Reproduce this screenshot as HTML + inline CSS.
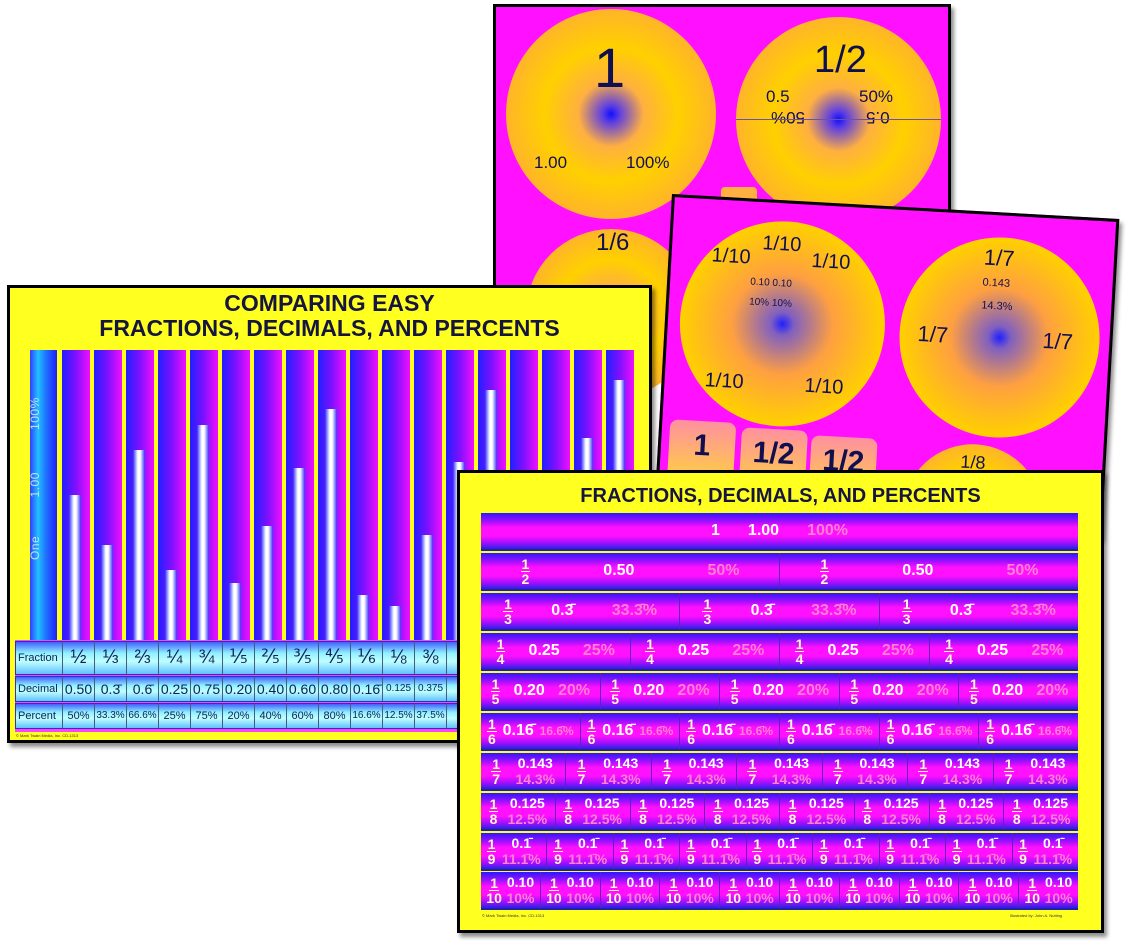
<!DOCTYPE html>
<html><head><meta charset="utf-8"><style>
*{margin:0;padding:0;box-sizing:border-box}
body{width:1133px;height:949px;background:#fff;position:relative;overflow:hidden;font-family:"Liberation Sans",sans-serif}
.card{position:absolute;border:3px solid #000;box-shadow:3px 4px 4px rgba(0,0,0,.45)}
.circ{position:absolute;border-radius:50%;background:radial-gradient(circle,#1010ff 0,#6040e0 6%,#ffb040 22%,#ffd000 45%,#ffb030 75%,#ff60c0 100%)}
.ct{position:absolute;color:#101050;font-size:17px}
.col{position:absolute;top:350px;height:290px;width:28px;background:linear-gradient(to right,#2020ff,#8010ff 50%,#f010ff)}
.bar{position:absolute;left:7px;bottom:0;width:12px;background:linear-gradient(to right,#3030ff,#fff 40%,#fff 60%,#3030ff)}
.tr{position:absolute;left:15px;width:640px;display:flex;border:1px solid #3030c0;background:linear-gradient(#4060ff,#90f0ff 35%,#c0ffff 60%,#60c0ff)}
.tr div{flex:0 0 32px;border-right:1px solid #406080;text-align:center;color:#102050;font-size:14px;white-space:nowrap;overflow:hidden}
.tr div:first-child{flex:0 0 47px;font-size:11px;text-align:left;padding-left:2px}
.row{position:absolute;left:481px;width:597px;height:38px;display:flex;background:linear-gradient(#2a18ff 0%,#9010ff 20%,#ff10ff 40%,#ff10ff 64%,#9a10ff 84%,#2a20e0 100%);border-bottom:2px solid #2020b0}
.cell{flex:1;display:flex;align-items:center;justify-content:space-around;border-right:1px solid #6020c0;color:#fff;font-weight:bold;font-size:16px;padding:0 3px;white-space:nowrap}
.cell:last-child{border-right:none}
.p{color:#ff80d0;font-weight:bold}
.f{display:inline-flex;flex-direction:column;align-items:center;font-size:14px;line-height:14px;color:#fff8d0}
.f i{font-style:normal;border-bottom:1.5px solid #fff8d0;padding:0 1px}
.st{display:flex;flex-direction:column;line-height:16px;font-size:14px;align-items:center}
</style></head><body>

<!-- back card -->
<div class="card" style="left:493px;top:4px;width:458px;height:300px;background:#ff10ff">
  <div class="circ" style="left:10px;top:2px;width:210px;height:210px"></div>
  <div class="ct" style="left:98px;top:28px;font-size:56px">1</div>
  <div class="ct" style="left:38px;top:146px">1.00</div>
  <div class="ct" style="left:130px;top:146px">100%</div>
  <div class="circ" style="left:240px;top:10px;width:205px;height:205px"></div>
  <div class="ct" style="left:318px;top:32px;font-size:38px">1/2</div>
  <div class="ct" style="left:270px;top:80px">0.5</div>
  <div class="ct" style="left:363px;top:80px">50%</div>
  <div class="ct" style="left:275px;top:100px;transform:rotate(180deg)">50%</div>
  <div class="ct" style="left:370px;top:100px;transform:rotate(180deg)">0.5</div>
  <div style="position:absolute;left:240px;top:112px;width:205px;height:1px;background:#7050a0"></div>
  <div class="circ" style="left:30px;top:222px;width:170px;height:170px"></div>
  <div class="ct" style="left:100px;top:222px;font-size:24px">1/6</div>
  <div style="position:absolute;left:225px;top:180px;width:36px;height:20px;background:#ffb040;border-radius:4px"></div>
</div>

<!-- middle card -->
<div class="card" style="left:672px;top:194px;width:448px;height:320px;background:#ff10ff;transform:rotate(3.2deg);transform-origin:0 0">
  <div class="circ" style="left:12px;top:18px;width:205px;height:205px;background:radial-gradient(circle,#2020ff 0,#8060c0 8%,#ffa040 35%,#ffd000 70%,#ffa060 100%)"></div>
  <div class="ct" style="left:40px;top:45px;font-size:20px">1/10</div>
  <div class="ct" style="left:90px;top:30px;font-size:20px">1/10</div>
  <div class="ct" style="left:140px;top:45px;font-size:20px">1/10</div>
  <div class="ct" style="left:80px;top:75px;font-size:10px">0.10 0.10</div>
  <div class="ct" style="left:80px;top:95px;font-size:10px">10% 10%</div>
  <div class="ct" style="left:40px;top:170px;font-size:20px">1/10</div>
  <div class="ct" style="left:140px;top:170px;font-size:20px">1/10</div>
  <div class="circ" style="left:232px;top:22px;width:200px;height:200px;background:radial-gradient(circle,#2020ff 0,#8060c0 8%,#ffa040 35%,#ffd000 70%,#ffa060 100%)"></div>
  <div class="ct" style="left:312px;top:30px;font-size:22px">1/7</div>
  <div class="ct" style="left:312px;top:62px;font-size:11px">0.143</div>
  <div class="ct" style="left:312px;top:85px;font-size:11px">14.3%</div>
  <div class="ct" style="left:250px;top:110px;font-size:22px">1/7</div>
  <div class="ct" style="left:375px;top:110px;font-size:22px">1/7</div>
  <div style="position:absolute;left:8px;top:222px;width:66px;height:60px;background:linear-gradient(#ff90a0,#ffd040);border-radius:8px;font-size:30px;font-weight:bold;color:#101050;text-align:center;padding-top:8px">1</div>
  <div style="position:absolute;left:80px;top:226px;width:66px;height:60px;background:linear-gradient(#ff90a0,#ffd040);border-radius:8px;font-size:30px;font-weight:bold;color:#101050;text-align:center;padding-top:8px">1/2</div>
  <div style="position:absolute;left:150px;top:230px;width:66px;height:60px;background:linear-gradient(#ff90a0,#ffd040);border-radius:8px;font-size:30px;font-weight:bold;color:#101050;text-align:center;padding-top:8px">1/2</div>
  <div class="circ" style="left:245px;top:230px;width:140px;height:140px"></div>
  <div class="ct" style="left:300px;top:238px;font-size:18px">1/8</div>
</div>

<!-- left card -->
<div class="card" style="left:7px;top:285px;width:645px;height:458px;background:#ffff20"></div>
<div style="position:absolute;left:7px;top:291px;width:645px;text-align:center;font-weight:bold;font-size:23px;line-height:25px;color:#151540">COMPARING EASY<br>FRACTIONS, DECIMALS, AND PERCENTS</div>
<div style="position:absolute;left:30px;top:350px;width:27px;height:290px;background:linear-gradient(to right,#3040ff,#20c0ff 30%,#2070ff 60%,#2020ff)"></div>
<div style="position:absolute;left:28px;top:560px;transform:rotate(-90deg);transform-origin:0 0;color:#c0e0ff;font-size:12px;width:200px;letter-spacing:.5px">One&nbsp;&nbsp;&nbsp;&nbsp;&nbsp;&nbsp;&nbsp;&nbsp;&nbsp;&nbsp;1.00&nbsp;&nbsp;&nbsp;&nbsp;&nbsp;&nbsp;&nbsp;&nbsp;&nbsp;&nbsp;&nbsp;100%</div>
<div class="col" style="left:62px"><div class="bar" style="height:145px"></div></div>
<div class="col" style="left:94px"><div class="bar" style="height:95px"></div></div>
<div class="col" style="left:126px"><div class="bar" style="height:190px"></div></div>
<div class="col" style="left:158px"><div class="bar" style="height:70px"></div></div>
<div class="col" style="left:190px"><div class="bar" style="height:215px"></div></div>
<div class="col" style="left:222px"><div class="bar" style="height:57px"></div></div>
<div class="col" style="left:254px"><div class="bar" style="height:114px"></div></div>
<div class="col" style="left:286px"><div class="bar" style="height:172px"></div></div>
<div class="col" style="left:318px"><div class="bar" style="height:231px"></div></div>
<div class="col" style="left:350px"><div class="bar" style="height:45px"></div></div>
<div class="col" style="left:382px"><div class="bar" style="height:34px"></div></div>
<div class="col" style="left:414px"><div class="bar" style="height:105px"></div></div>
<div class="col" style="left:446px"><div class="bar" style="height:178px"></div></div>
<div class="col" style="left:478px"><div class="bar" style="height:250px"></div></div>
<div class="col" style="left:510px"></div>
<div class="col" style="left:542px"></div>
<div class="col" style="left:574px"><div class="bar" style="height:202px"></div></div>
<div class="col" style="left:606px"><div class="bar" style="height:260px"></div></div>
<div style="position:absolute;left:15px;top:640px;width:636px;height:92px;background:#ff40ff"></div>
<div class="tr" style="top:641px;height:34px;line-height:32px"><div>Fraction</div><div style="font-size:19px">½</div><div style="font-size:19px">⅓</div><div style="font-size:19px">⅔</div><div style="font-size:19px">¼</div><div style="font-size:19px">¾</div><div style="font-size:19px">⅕</div><div style="font-size:19px">⅖</div><div style="font-size:19px">⅗</div><div style="font-size:19px">⅘</div><div style="font-size:19px">⅙</div><div style="font-size:19px">⅛</div><div style="font-size:19px">⅜</div><div>5</div></div>
<div class="tr" style="top:676px;height:26px;line-height:24px"><div>Decimal</div><div>0.50</div><div>0.3̄</div><div>0.6̄</div><div>0.25</div><div>0.75</div><div>0.20</div><div>0.40</div><div>0.60</div><div>0.80</div><div>0.16̄</div><div style="font-size:10px">0.125</div><div style="font-size:10px">0.375</div><div>0.</div></div>
<div class="tr" style="top:703px;height:26px;line-height:24px"><div>Percent</div><div style="font-size:11px">50%</div><div style="font-size:10px">33.3%</div><div style="font-size:10px">66.6%</div><div style="font-size:11px">25%</div><div style="font-size:11px">75%</div><div style="font-size:11px">20%</div><div style="font-size:11px">40%</div><div style="font-size:11px">60%</div><div style="font-size:11px">80%</div><div style="font-size:10px">16.6%</div><div style="font-size:10px">12.5%</div><div style="font-size:10px">37.5%</div><div style="font-size:11px">6</div></div>
<div style="position:absolute;left:16px;top:733px;font-size:4px;color:#333">© Mark Twain Media, Inc. CD-1313</div>

<!-- front card -->
<div class="card" style="left:457px;top:470px;width:647px;height:463px;background:#ffff20"></div>
<div style="position:absolute;left:457px;top:485px;width:647px;text-align:center;font-weight:bold;font-size:20px;color:#151540">FRACTIONS, DECIMALS, AND PERCENTS</div>

<div class="row" style="top:513px"><div class="cell" style="justify-content:center;gap:28px"><span>1</span><span>1.00</span><span class="p">100%</span></div></div>
<div class="row" style="top:553px"><div class="cell"><span class="f"><i>1</i>2</span><span>0.50</span><span class="p">50%</span></div><div class="cell"><span class="f"><i>1</i>2</span><span>0.50</span><span class="p">50%</span></div></div>
<div class="row" style="top:593px"><div class="cell"><span class="f"><i>1</i>3</span><span>0.3̄</span><span class="p">33.3̄%</span></div><div class="cell"><span class="f"><i>1</i>3</span><span>0.3̄</span><span class="p">33.3̄%</span></div><div class="cell"><span class="f"><i>1</i>3</span><span>0.3̄</span><span class="p">33.3̄%</span></div></div>
<div class="row" style="top:633px"><div class="cell"><span class="f"><i>1</i>4</span><span>0.25</span><span class="p">25%</span></div><div class="cell"><span class="f"><i>1</i>4</span><span>0.25</span><span class="p">25%</span></div><div class="cell"><span class="f"><i>1</i>4</span><span>0.25</span><span class="p">25%</span></div><div class="cell"><span class="f"><i>1</i>4</span><span>0.25</span><span class="p">25%</span></div></div>
<div class="row" style="top:673px"><div class="cell"><span class="f"><i>1</i>5</span><span>0.20</span><span class="p">20%</span></div><div class="cell"><span class="f"><i>1</i>5</span><span>0.20</span><span class="p">20%</span></div><div class="cell"><span class="f"><i>1</i>5</span><span>0.20</span><span class="p">20%</span></div><div class="cell"><span class="f"><i>1</i>5</span><span>0.20</span><span class="p">20%</span></div><div class="cell"><span class="f"><i>1</i>5</span><span>0.20</span><span class="p">20%</span></div></div>
<div class="row" style="top:713px;font-size:14px"><div class="cell"><span class="f"><i>1</i>6</span><span>0.16̄</span><span class="p" style="font-size:12px">16.6̄%</span></div><div class="cell"><span class="f"><i>1</i>6</span><span>0.16̄</span><span class="p" style="font-size:12px">16.6̄%</span></div><div class="cell"><span class="f"><i>1</i>6</span><span>0.16̄</span><span class="p" style="font-size:12px">16.6̄%</span></div><div class="cell"><span class="f"><i>1</i>6</span><span>0.16̄</span><span class="p" style="font-size:12px">16.6̄%</span></div><div class="cell"><span class="f"><i>1</i>6</span><span>0.16̄</span><span class="p" style="font-size:12px">16.6̄%</span></div><div class="cell"><span class="f"><i>1</i>6</span><span>0.16̄</span><span class="p" style="font-size:12px">16.6̄%</span></div></div>
<div class="row" style="top:753px"><div class="cell"><span class="f"><i>1</i>7</span><span class="st"><span>0.143</span><span class="p">14.3%</span></span></div><div class="cell"><span class="f"><i>1</i>7</span><span class="st"><span>0.143</span><span class="p">14.3%</span></span></div><div class="cell"><span class="f"><i>1</i>7</span><span class="st"><span>0.143</span><span class="p">14.3%</span></span></div><div class="cell"><span class="f"><i>1</i>7</span><span class="st"><span>0.143</span><span class="p">14.3%</span></span></div><div class="cell"><span class="f"><i>1</i>7</span><span class="st"><span>0.143</span><span class="p">14.3%</span></span></div><div class="cell"><span class="f"><i>1</i>7</span><span class="st"><span>0.143</span><span class="p">14.3%</span></span></div><div class="cell"><span class="f"><i>1</i>7</span><span class="st"><span>0.143</span><span class="p">14.3%</span></span></div></div>
<div class="row" style="top:793px"><div class="cell"><span class="f"><i>1</i>8</span><span class="st"><span>0.125</span><span class="p">12.5%</span></span></div><div class="cell"><span class="f"><i>1</i>8</span><span class="st"><span>0.125</span><span class="p">12.5%</span></span></div><div class="cell"><span class="f"><i>1</i>8</span><span class="st"><span>0.125</span><span class="p">12.5%</span></span></div><div class="cell"><span class="f"><i>1</i>8</span><span class="st"><span>0.125</span><span class="p">12.5%</span></span></div><div class="cell"><span class="f"><i>1</i>8</span><span class="st"><span>0.125</span><span class="p">12.5%</span></span></div><div class="cell"><span class="f"><i>1</i>8</span><span class="st"><span>0.125</span><span class="p">12.5%</span></span></div><div class="cell"><span class="f"><i>1</i>8</span><span class="st"><span>0.125</span><span class="p">12.5%</span></span></div><div class="cell"><span class="f"><i>1</i>8</span><span class="st"><span>0.125</span><span class="p">12.5%</span></span></div></div>
<div class="row" style="top:833px"><div class="cell"><span class="f"><i>1</i>9</span><span class="st"><span>0.1̄</span><span class="p">11.1̄%</span></span></div><div class="cell"><span class="f"><i>1</i>9</span><span class="st"><span>0.1̄</span><span class="p">11.1̄%</span></span></div><div class="cell"><span class="f"><i>1</i>9</span><span class="st"><span>0.1̄</span><span class="p">11.1̄%</span></span></div><div class="cell"><span class="f"><i>1</i>9</span><span class="st"><span>0.1̄</span><span class="p">11.1̄%</span></span></div><div class="cell"><span class="f"><i>1</i>9</span><span class="st"><span>0.1̄</span><span class="p">11.1̄%</span></span></div><div class="cell"><span class="f"><i>1</i>9</span><span class="st"><span>0.1̄</span><span class="p">11.1̄%</span></span></div><div class="cell"><span class="f"><i>1</i>9</span><span class="st"><span>0.1̄</span><span class="p">11.1̄%</span></span></div><div class="cell"><span class="f"><i>1</i>9</span><span class="st"><span>0.1̄</span><span class="p">11.1̄%</span></span></div><div class="cell"><span class="f"><i>1</i>9</span><span class="st"><span>0.1̄</span><span class="p">11.1̄%</span></span></div></div>
<div class="row" style="top:872px"><div class="cell"><span class="f"><i>1</i>10</span><span class="st"><span>0.10</span><span class="p">10%</span></span></div><div class="cell"><span class="f"><i>1</i>10</span><span class="st"><span>0.10</span><span class="p">10%</span></span></div><div class="cell"><span class="f"><i>1</i>10</span><span class="st"><span>0.10</span><span class="p">10%</span></span></div><div class="cell"><span class="f"><i>1</i>10</span><span class="st"><span>0.10</span><span class="p">10%</span></span></div><div class="cell"><span class="f"><i>1</i>10</span><span class="st"><span>0.10</span><span class="p">10%</span></span></div><div class="cell"><span class="f"><i>1</i>10</span><span class="st"><span>0.10</span><span class="p">10%</span></span></div><div class="cell"><span class="f"><i>1</i>10</span><span class="st"><span>0.10</span><span class="p">10%</span></span></div><div class="cell"><span class="f"><i>1</i>10</span><span class="st"><span>0.10</span><span class="p">10%</span></span></div><div class="cell"><span class="f"><i>1</i>10</span><span class="st"><span>0.10</span><span class="p">10%</span></span></div><div class="cell"><span class="f"><i>1</i>10</span><span class="st"><span>0.10</span><span class="p">10%</span></span></div></div>
<div style="position:absolute;left:482px;top:913px;font-size:4px;color:#333">© Mark Twain Media, Inc. CD-1313</div>
<div style="position:absolute;left:1010px;top:913px;font-size:4px;color:#333">Illustrated by: John A. Nutting</div>
</body></html>
